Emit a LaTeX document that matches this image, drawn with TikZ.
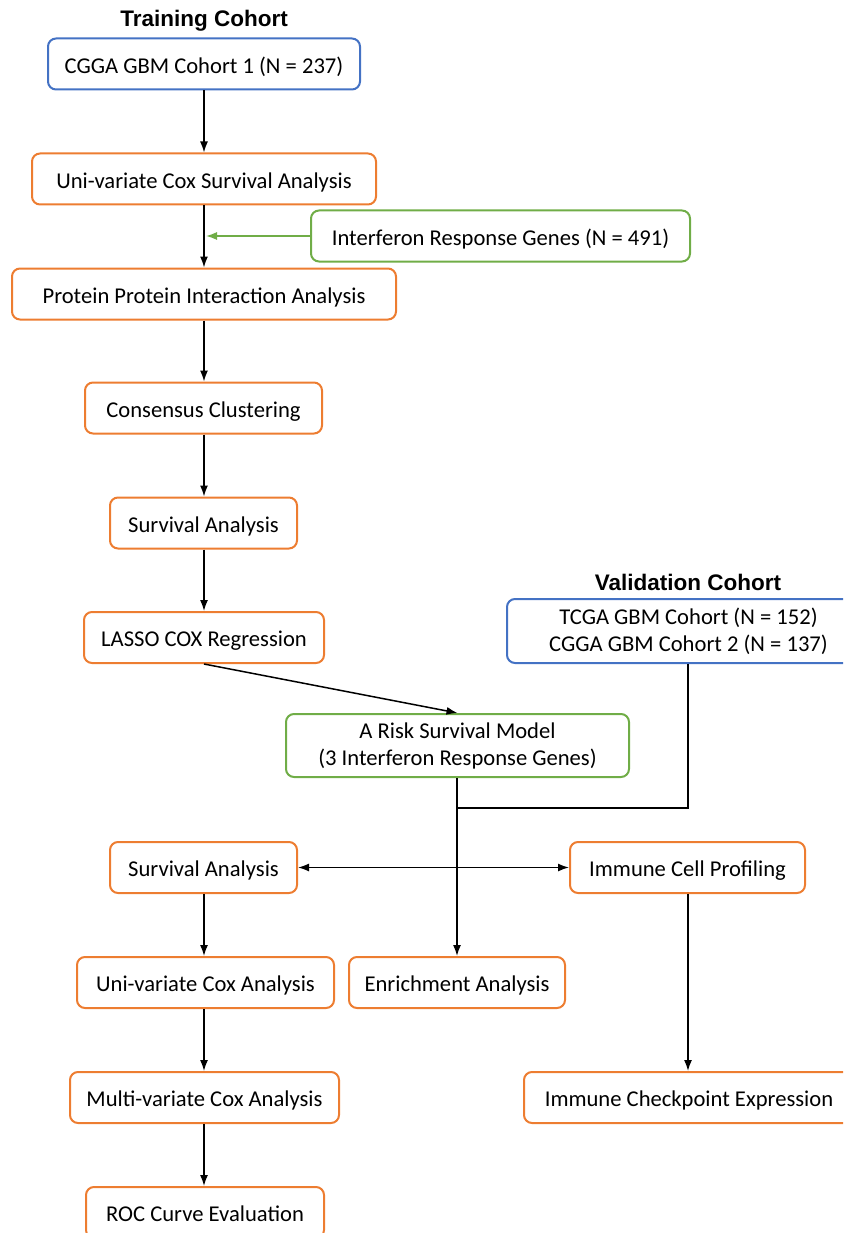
\documentclass[tikz,border=0pt]{standalone}
\usepackage{fontspec}
\setmainfont{Carlito}
\newfontfamily\titlefont{Liberation Sans}
\usetikzlibrary{arrows.meta}
\definecolor{cblue}{HTML}{4472C4}
\definecolor{corange}{HTML}{ED7D31}
\definecolor{cgreen}{HTML}{70AD47}
\begin{document}
\begin{tikzpicture}[x=1pt,y=-1pt,
  box/.style={draw, rounded corners=8pt, line width=2pt, minimum height=51pt, inner sep=0pt, align=center, font=\fontsize{22.6}{27}\selectfont},
  one/.style={text height=18.5pt, text depth=0pt},
  obox/.style={box, one, draw=corange},
  bbox/.style={box, draw=cblue},
  gbox/.style={box, draw=cgreen},
  ttl/.style={font=\titlefont\bfseries\fontsize{22.5}{27}\selectfont, inner sep=0pt},
  arr/.style={line width=1.5pt, -{Latex[length=11pt,width=8pt]}},
  ln/.style={line width=1.5pt}]
\useasboundingbox (0,0) rectangle (843,1233);
\clip (0,0) rectangle (843,1233);

\node[ttl] (t1) at (204,21) {Training Cohort};
\node[ttl] (t2) at (688,582) {Validation Cohort};

\node[bbox, one, minimum width=312pt] (cgga) at (204,64) {CGGA GBM Cohort 1 (N = 237)};
\node[obox, minimum width=344pt] (ucox) at (204,179) {Uni-variate Cox Survival Analysis};
\node[gbox, one, minimum width=379pt] (ifn) at (500.5,236) {Interferon Response Genes (N = 491)};
\node[obox, minimum width=384pt] (ppi) at (204,294) {Protein Protein Interaction Analysis};
\node[obox, minimum width=237pt] (cons) at (203.5,408) {Consensus Clustering};
\node[obox, minimum width=187pt] (surv1) at (203.5,523) {Survival Analysis};
\node[obox, minimum width=240pt] (lasso) at (204,637.5) {LASSO COX Regression};
\node[bbox, minimum width=363pt, minimum height=64pt] (val) at (688.5,631) {TCGA GBM Cohort (N = 152)\\CGGA GBM Cohort 2 (N = 137)};
\node[gbox, minimum width=343pt, minimum height=63pt] (risk) at (457.5,745.5) {A Risk Survival Model\\(3 Interferon Response Genes)};
\node[obox, minimum width=187pt] (surv2) at (203.5,867.5) {Survival Analysis};
\node[obox, minimum width=235pt] (icp) at (687.5,867.5) {Immune Cell Profiling};
\node[obox, minimum width=257pt] (ucox2) at (205.5,982.5) {Uni-variate Cox Analysis};
\node[obox, minimum width=216pt] (enr) at (457,982.5) {Enrichment Analysis};
\node[obox, minimum width=269pt] (mcox) at (204.5,1097.5) {Multi-variate Cox Analysis};
\node[obox, minimum width=330pt] (ice) at (689,1097.5) {Immune Checkpoint Expression};
\node[obox, minimum width=238pt] (roc) at (205,1212.5) {ROC Curve Evaluation};

\coordinate (join1) at ([xshift=2pt]ucox.south |- ifn.west);
\coordinate (join2) at (457,808);

\draw[arr] (cgga.south -| 204,0) -- (ucox.north -| 204,0);
\draw[arr] (ucox.south -| 204,0) -- (ppi.north -| 204,0);
\draw[arr, draw=cgreen, line width=1.3pt] (ifn.west) -- (join1);
\draw[arr] (ppi.south -| 204,0) -- (cons.north -| 204,0);
\draw[arr] (cons.south -| 204,0) -- (surv1.north -| 204,0);
\draw[arr] (surv1.south -| 204,0) -- (lasso.north -| 204,0);
\draw[arr] (lasso.south) -- (risk.north);
\draw[ln] (val.south -| 688,0) |- (join2);
\draw[arr] (risk.south -| 457,0) -- (enr.north -| 457,0);
\draw[line width=1.5pt, {Latex[length=11pt,width=8pt]}-{Latex[length=11pt,width=8pt]}] (surv2.east) -- (icp.west);
\draw[arr] (surv2.south -| 204,0) -- (ucox2.north -| 204,0);
\draw[arr] (ucox2.south -| 204,0) -- (mcox.north -| 204,0);
\draw[arr] (mcox.south -| 204,0) -- (roc.north -| 204,0);
\draw[arr] (icp.south -| 688,0) -- (ice.north -| 688,0);
\end{tikzpicture}
\end{document}
